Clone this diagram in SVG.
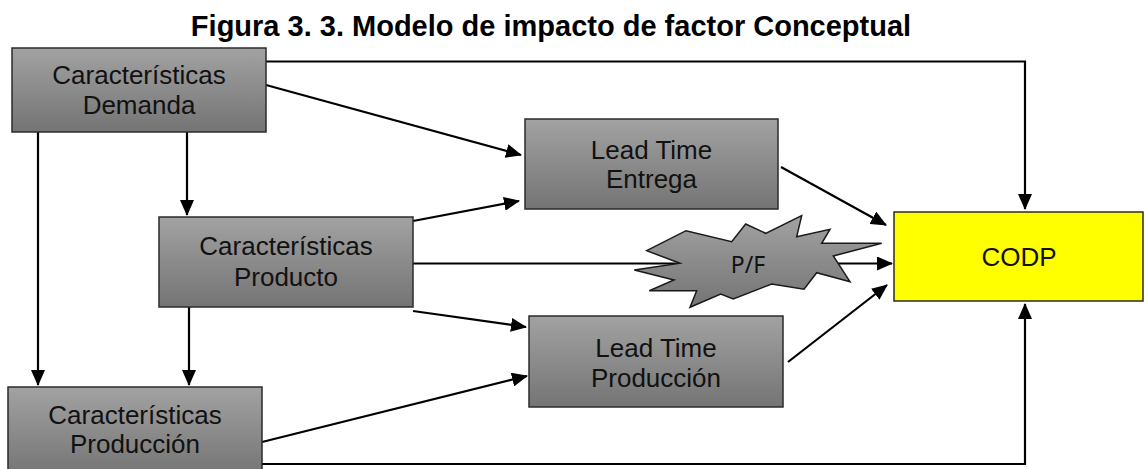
<svg xmlns="http://www.w3.org/2000/svg" width="1145" height="469" viewBox="0 0 1145 469">
  <style>
    .box { fill: url(#grayFill); stroke: #2b2b2b; stroke-width: 1.5; }
    .codp { fill: #ffff00; stroke: #2b2b2b; stroke-width: 1.5; }
    .lbl { font-family: "Liberation Sans", Arial, sans-serif; font-size: 26px; fill: #111; text-anchor: middle; }
    .title { font-family: "Liberation Sans", Arial, sans-serif; font-size: 29px; font-weight: bold; fill: #000; text-anchor: middle; }
    .star { fill: url(#grayFill); stroke: #1a1a1a; stroke-width: 1.5; stroke-linejoin: miter; }
    .starlbl { font-family: "Noto Sans", "DejaVu Sans", sans-serif; font-size: 23px; fill: #111; text-anchor: middle; }
    .conn { fill: none; stroke: #000; stroke-width: 2.2; }
    .arrow { marker-end: url(#head); }
  </style>
  <defs>
    <linearGradient id="grayFill" x1="0" y1="0" x2="0" y2="1">
      <stop offset="0" stop-color="#a2a2a2"/>
      <stop offset="1" stop-color="#747474"/>
    </linearGradient>
    <marker id="head" viewBox="0 0 16 14" refX="15" refY="7" markerWidth="16" markerHeight="14" markerUnits="userSpaceOnUse" orient="auto">
      <path d="M0,0 L16,7 L0,14 z" fill="#000"/>
    </marker>
  </defs>

  <rect width="1145" height="469" fill="#ffffff"/>

  <text class="title" x="551" y="36">Figura 3. 3. Modelo de impacto de factor Conceptual</text>

  <!-- connectors -->
  <g id="connectors">
    <polyline class="conn arrow" points="266,61.5 1025,61.5 1025,209"/>
    <line class="conn arrow" x1="266" y1="85" x2="521" y2="155"/>
    <line class="conn arrow" x1="187" y1="132" x2="187" y2="215"/>
    <line class="conn arrow" x1="38" y1="132" x2="38" y2="385"/>
    <line class="conn arrow" x1="189" y1="307" x2="189" y2="385"/>
    <line class="conn arrow" x1="413" y1="221" x2="519" y2="201"/>
    <line class="conn arrow" x1="413" y1="263.5" x2="892" y2="263.5"/>
    <line class="conn arrow" x1="413" y1="311" x2="526" y2="327"/>
    <line class="conn arrow" x1="262" y1="442" x2="527" y2="376"/>
    <polyline class="conn arrow" points="262,464 1025,464 1025,304"/>
    <line class="conn arrow" x1="781" y1="167" x2="886" y2="225"/>
    <line class="conn arrow" x1="788" y1="362" x2="887" y2="285"/>
  </g>

  <g id="node-demanda">
    <rect class="box" x="12" y="48" width="254" height="84"/>
    <text class="lbl" x="139" y="84">Características</text>
    <text class="lbl" x="139" y="114">Demanda</text>
  </g>

  <g id="node-producto">
    <rect class="box" x="159" y="217" width="254" height="90"/>
    <text class="lbl" x="286" y="255">Características</text>
    <text class="lbl" x="286" y="286">Producto</text>
  </g>

  <g id="node-produccion">
    <rect class="box" x="8" y="387" width="254" height="90"/>
    <text class="lbl" x="135" y="424">Características</text>
    <text class="lbl" x="135" y="453">Producción</text>
  </g>

  <g id="node-lt-entrega">
    <rect class="box" x="525" y="119" width="253" height="90"/>
    <text class="lbl" x="651.5" y="159">Lead Time</text>
    <text class="lbl" x="651.5" y="188">Entrega</text>
  </g>

  <g id="node-lt-produccion">
    <rect class="box" x="529" y="316" width="254" height="91"/>
    <text class="lbl" x="656" y="357">Lead Time</text>
    <text class="lbl" x="656" y="387">Producción</text>
  </g>

  <g id="node-pf">
    <polygon class="star" points="634.3,270 680,263.3 646.7,250.7 686,230.7 731.7,241.7 745.7,224 765.7,233.3 801.7,215.7 796.7,236.7 830,229.3 821.7,243.3 881.7,243.3 833.3,256 850,281.7 816.7,272.7 804,289.3 771.7,284 733.3,299 720.7,294 690,307.3 696.7,290.7 649.3,290.7 674,280"/>
    <text class="starlbl" x="748" y="273">P/F</text>
  </g>

  <g id="node-codp">
    <rect class="codp" x="894" y="212" width="249" height="89"/>
    <text class="lbl" x="1019" y="266">CODP</text>
  </g>
</svg>
